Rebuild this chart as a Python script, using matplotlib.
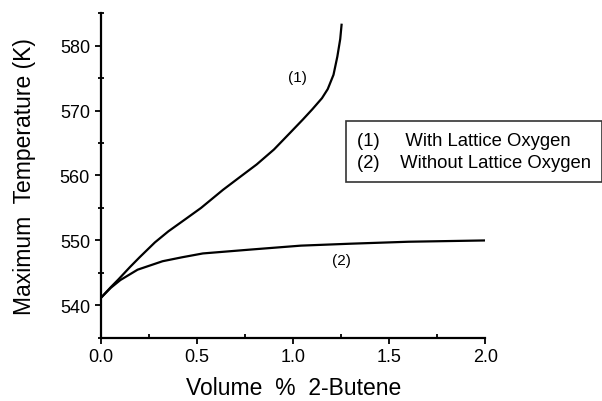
"""Maximum temperature vs 2-butene volume fraction"""

import matplotlib
matplotlib.use('Agg')
import matplotlib.pyplot as plt
from matplotlib.ticker import MultipleLocator
from matplotlib.lines import Line2D

plt.rcParams['font.family'] = ['Liberation Sans', 'DejaVu Sans']

# curve (1): with lattice oxygen
x_with = [0.0, 0.05, 0.09, 0.15, 0.2, 0.28, 0.35, 0.44, 0.52, 0.635, 0.72, 0.81,
          0.9, 0.985, 1.05, 1.1, 1.15, 1.18, 1.21, 1.23, 1.245, 1.252]
t_with = [541.2, 542.8, 544.0, 545.9, 547.4, 549.7, 551.4, 553.3, 555.0, 557.8, 559.7, 561.7,
          564.0, 566.6, 568.6, 570.2, 571.9, 573.3, 575.5, 578.3, 581.0, 583.2]

# curve (2): without lattice oxygen
x_without = [0.0, 0.05, 0.1, 0.19, 0.32, 0.42, 0.53, 0.78, 1.04, 1.3, 1.6, 2.0]
t_without = [541.2, 542.7, 543.9, 545.5, 546.8, 547.4, 548.0, 548.6, 549.2, 549.5, 549.8, 550.0]

legend_labels = ['With Lattice Oxygen', 'Without Lattice Oxygen']

fig = plt.figure(figsize=(6.02, 4.02), dpi=100)
ax = fig.add_axes([0.168, 0.157, 0.638, 0.808])

ax.plot(x_with, t_with, color='black', linewidth=1.6)
ax.plot(x_without, t_without, color='black', linewidth=1.6)

ax.text(1.02, 575.2, '(1)', fontsize=11, ha='center', va='center')
ax.text(1.25, 547.0, '(2)', fontsize=11, ha='center', va='center')

ax.set_xlim(0, 2.0)
ax.set_ylim(535, 585)
ax.xaxis.set_major_locator(MultipleLocator(0.5))
ax.xaxis.set_minor_locator(MultipleLocator(0.25))
ax.yaxis.set_major_locator(MultipleLocator(10))
ax.yaxis.set_minor_locator(MultipleLocator(5))
ax.xaxis.set_major_formatter(lambda v, pos: f'{v:.1f}')

for side in ['top', 'right']:
    ax.spines[side].set_visible(False)
for side in ['left', 'bottom']:
    ax.spines[side].set_linewidth(1.6)

ax.tick_params(axis='x', which='major', direction='out', length=4, width=1.3,
               labelsize=13, pad=3)
ax.tick_params(axis='x', which='minor', direction='in', length=3, width=1.3)
ax.tick_params(axis='y', which='major', direction='out', length=4, width=1.3,
               labelsize=13, pad=4)
ax.tick_params(axis='y', which='minor', direction='inout', length=5, width=1.3)

ax.set_xlabel('Volume  %  2-Butene', fontsize=16.5, labelpad=8)
ax.set_ylabel('Maximum  Temperature (K)', fontsize=16.5, labelpad=17)

handles = [Line2D([], [], linestyle='none') for _ in legend_labels]
leg = fig.legend(handles, [f'(1)     {legend_labels[0]}', f'(2)    {legend_labels[1]}'],
                 loc='upper left', bbox_to_anchor=(0.575, 0.697),
                 frameon=True, fancybox=False, fontsize=13.3,
                 handlelength=0, handletextpad=0, borderpad=0.6,
                 labelspacing=0.28, borderaxespad=0)
leg.get_frame().set_edgecolor('black')
leg.get_frame().set_linewidth(1.2)

fig.savefig('out.png', dpi=100)
